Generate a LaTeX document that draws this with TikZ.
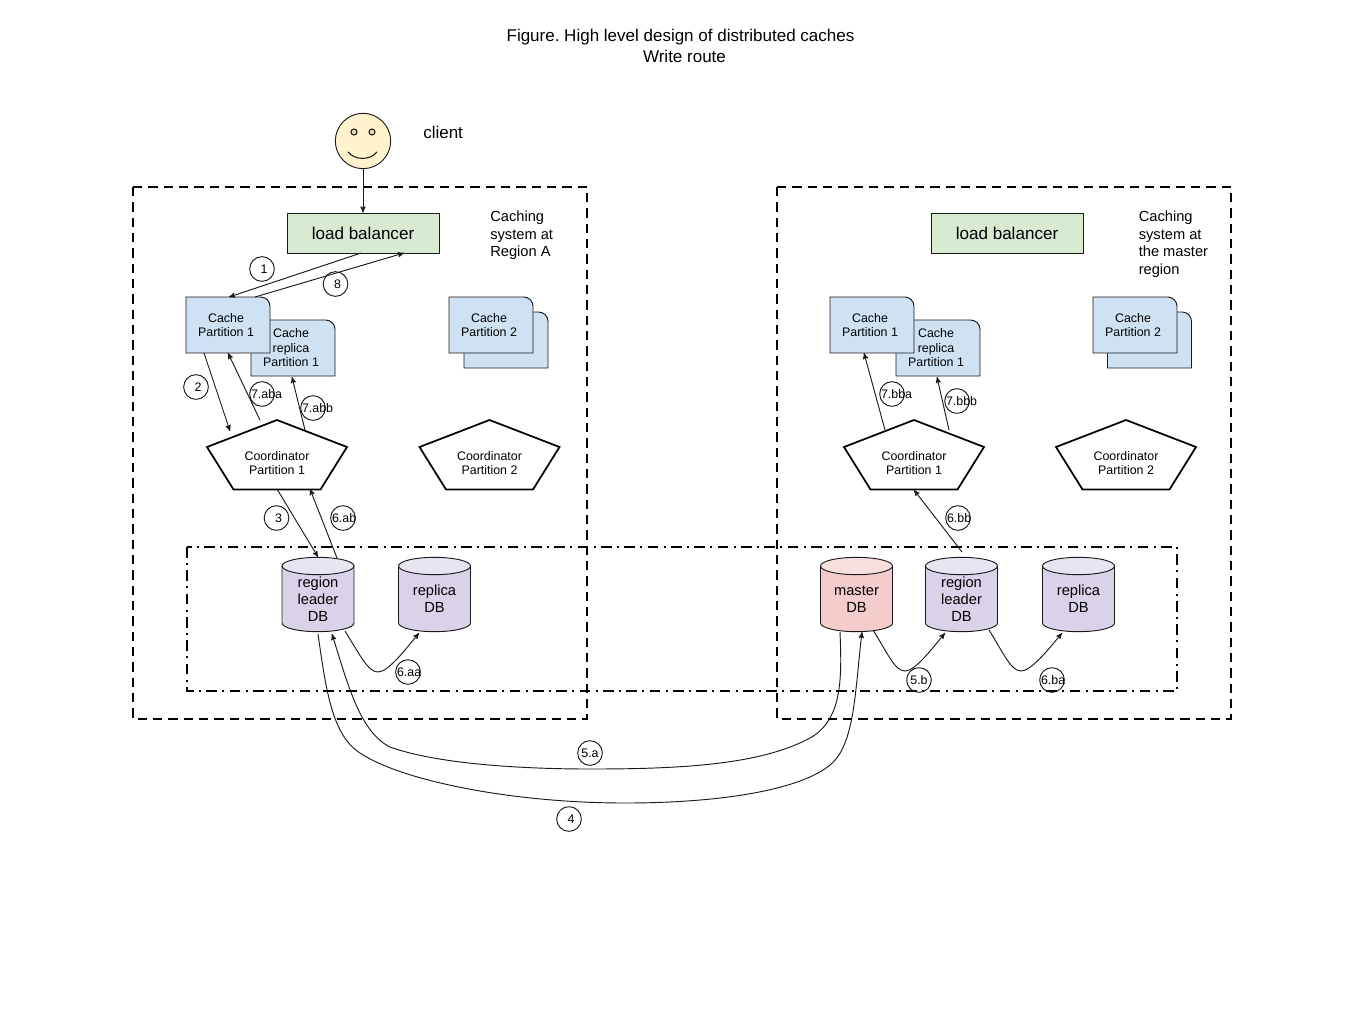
\documentclass[tikz,border=0pt]{standalone}
\usepackage{fontspec}
\setmainfont{Liberation Sans}
\usetikzlibrary{arrows}

\definecolor{BalancerGreen}{HTML}{D9EAD3}
\definecolor{CacheBlue}{HTML}{CFE2F3}
\definecolor{DbPurple}{HTML}{D9D2E9}
\definecolor{DbPurpleTop}{HTML}{E8E4F2}
\definecolor{DbRed}{HTML}{F4CCCC}
\definecolor{DbRedTop}{HTML}{F8E0E0}
\definecolor{FaceYellow}{HTML}{FFF2CC}
\definecolor{EyeTan}{HTML}{E8D9AE}
\definecolor{EdgeGray}{HTML}{1A1A1A}

% name, centre of the box, text
\newcommand{\CacheNode}[3]{%
    \path[CacheBoxStyle] (#2) ++(-42,-28) [rounded corners=7pt] -- ++(84,0) [sharp corners] -- ++(0,56) -- ++(-84,0) -- cycle;
    \node[CacheTextStyle] (#1) at ([shift={(-2,0)}]#2) {#3};
}
% name, tip of the pentagon, text
\newcommand{\CoordNode}[3]{%
    \path[CoordStyle] (#2) -- ++(70,27) -- ++(-26.5,42.5) -- ++(-87,0) -- ++(-26.5,-42.5) -- cycle;
    \node[CacheTextStyle] (#1) at ([shift={(0,43)}]#2) {#3};
}
% name, place of the text, text, body colour, top colour
\newcommand{\DbNode}[5]{%
    \path[DbBoxStyle, fill=#4] (#2) ++(-36,-33) -- ++(0,57)
        arc[start angle=180, end angle=360, x radius=27pt, y radius=6.5pt] -- ++(0,-57) -- cycle;
    \path[DbBoxStyle, fill=#5] (#2) ++(0,-33) ellipse[x radius=27pt, y radius=6.5pt];
    \node[DbTextStyle] (#1) at (#2) {#3};
}
% text that runs out of its circle on the right
\newcommand{\OverText}[1]{\makebox[0pt][l]{\hspace{-8.2pt}#1}}
% text a little right of the middle of its circle
\newcommand{\NudgeText}[1]{\makebox[0pt]{\hspace{3pt}#1}}

\begin{document}
\frenchspacing
\begin{tikzpicture}[>=stealth', x=0.75pt, y=-0.75pt]
    \tikzstyle{PlainStyle}=[inner sep    = 0pt,
                            align        = left,
                            font         = \fontsize{11}{13.1}\selectfont]
    \tikzstyle{BalancerStyle}=[shape        = rectangle,
                               draw         = EdgeGray,
                               line width   = 0.7pt,
                               fill         = BalancerGreen,
                               minimum width  = 114pt,
                               minimum height = 30pt,
                               font         = \fontsize{12.8}{15}\selectfont]
    \tikzstyle{CacheBoxStyle}=[draw       = EdgeGray,
                               line width = 0.7pt,
                               fill       = CacheBlue]
    \tikzstyle{CacheTextStyle}=[inner sep = 0pt,
                                align     = center,
                                font      = \fontsize{9.3}{10.9}\selectfont]
    \tikzstyle{CoordStyle}=[draw       = black,
                            line width = 1.3pt,
                            fill       = white]
    \tikzstyle{DbBoxStyle}=[draw       = EdgeGray,
                            line width = 0.7pt]
    \tikzstyle{DbTextStyle}=[inner sep = 0pt,
                             align     = center,
                             font      = \fontsize{11}{12.75}\selectfont]
    \tikzstyle{StepStyle}=[shape        = circle,
                           draw         = EdgeGray,
                           line width   = 0.7pt,
                           minimum size = 18.5pt,
                           inner sep    = 0pt,
                           font         = \fontsize{9.3}{11}\selectfont]
    \tikzstyle{EyeStyle}=[shape        = circle,
                          draw         = EdgeGray,
                          line width   = 0.8pt,
                          fill         = EyeTan,
                          minimum size = 4.5pt,
                          inner sep    = 0pt]
    \tikzstyle{FlowStyle}=[->,
                           draw       = EdgeGray,
                           line width = 0.7pt]
    \tikzstyle{RegionStyle}=[draw, line width = 1.4pt, dash pattern = on 7pt off 4.5pt]
    \tikzstyle{DbZoneStyle}=[draw, line width = 1.2pt, dash pattern = on 8pt off 4pt on 1.5pt off 4pt]

    \useasboundingbox[fill=white] (0,0) rectangle (1358,1025);

    % title and client
    \node[PlainStyle, align=center, font=\fontsize{12.75}{15.75}\selectfont] (title) at (680.5,45.5)
        {Figure. High level design of distributed caches\\\hspace*{6pt}Write route};
    \node[shape=circle, draw=EdgeGray, line width=0.7pt, fill=FaceYellow, minimum size=41.5pt, inner sep=0pt] (face) at (363,141) {};
    \node[EyeStyle] (eyeL) at (354,132) {};
    \node[EyeStyle] (eyeR) at (372,132) {};
    \draw[EdgeGray, line width=0.8pt] (348,152) .. controls (355,160.5) and (370,160.5) .. (377,152);
    \node[PlainStyle, font=\fontsize{12.75}{15}\selectfont, anchor=west] (client) at (423,132) {client};

    % the two regions and the database zone
    \path[RegionStyle] (133,187) rectangle (587,719);
    \path[RegionStyle] (777,187) rectangle (1231,719);
    \path[DbZoneStyle] (187,547) rectangle (1177,691);
    \node[PlainStyle, anchor=north west] (regionA) at (490,211) {Caching\\system at\\Region A};
    \node[PlainStyle, anchor=north west] (regionM) at (1138.5,211) {Caching\\system at\\the master\\region};

    % region A
    \node[BalancerStyle] (lbA) at (363,233) {load balancer};
    \CacheNode{replicaA}{293,348}{Cache\\replica\\Partition 1}
    \CacheNode{cacheA}{228,325}{Cache\\Partition 1}
    \path[CacheBoxStyle] (464,312) [rounded corners=7pt] -- ++(84,0) [sharp corners] -- ++(0,56) -- ++(-84,0) -- cycle;
    \CacheNode{cacheAtwo}{491,325}{Cache\\Partition 2}
    \CoordNode{coordA}{277,420}{Coordinator\\Partition 1}
    \CoordNode{coordAtwo}{489.5,420}{Coordinator\\Partition 2}
    \DbNode{leaderA}{318,599}{region\\leader\\DB}{DbPurple}{DbPurpleTop}
    \DbNode{replicaDbA}{434.5,599}{replica\\DB}{DbPurple}{DbPurpleTop}

    % master region
    \node[BalancerStyle] (lbM) at (1007,233) {load balancer};
    \CacheNode{replicaM}{938,348}{Cache\\replica\\Partition 1}
    \CacheNode{cacheM}{872,325}{Cache\\Partition 1}
    \path[CacheBoxStyle] (1107.5,312) [rounded corners=7pt] -- ++(84,0) [sharp corners] -- ++(0,56) -- ++(-84,0) -- cycle;
    \CacheNode{cacheMtwo}{1135,325}{Cache\\Partition 2}
    \CoordNode{coordM}{914,420}{Coordinator\\Partition 1}
    \CoordNode{coordMtwo}{1126,420}{Coordinator\\Partition 2}
    \DbNode{master}{856.5,599}{master\\DB}{DbRed}{DbRedTop}
    \DbNode{leaderM}{961.5,599}{region\\leader\\DB}{DbPurple}{DbPurpleTop}
    \DbNode{replicaDbM}{1078.5,599}{replica\\DB}{DbPurple}{DbPurpleTop}

    % straight connectors
    \draw[FlowStyle] (face.south) -- (lbA.north);
    \draw[FlowStyle] ([shift={(-2,20)}]lbA.center) -- ([shift={(3,-28)}]cacheA.center);
    \draw[FlowStyle] ([shift={(29,-28)}]cacheA.center) -- ([shift={(41,20)}]lbA.center);
    \draw[FlowStyle] ([shift={(-22,28)}]cacheA.center) -- ([shift={(-47,-32)}]coordA.center);
    \draw[FlowStyle] ([shift={(-17,-43)}]coordA.center) -- ([shift={(2,28)}]cacheA.center);
    \draw[FlowStyle] ([shift={(28,-33)}]coordA.center) -- ([shift={(1,29)}]replicaA.center);
    \draw[FlowStyle] ([shift={(0,26)}]coordA.center) -- ([shift={(0,-42)}]leaderA.center);
    \draw[FlowStyle] ([shift={(19,-41)}]leaderA.center) -- ([shift={(33,26)}]coordA.center);
    \draw[FlowStyle] ([shift={(-29,-33)}]coordM.center) -- ([shift={(-6,28)}]cacheM.center);
    \draw[FlowStyle] ([shift={(35,-33)}]coordM.center) -- ([shift={(1,29)}]replicaM.center);
    \draw[FlowStyle] ([shift={(0.5,-47)}]leaderM.center) -- ([shift={(0,27)}]coordM.center);

    % curved connectors
    \draw[FlowStyle] ([shift={(27,32)}]leaderA.center) .. controls +(15,24) and +(-10,0) .. ++(33,41)
        .. controls +(10,0) and +(-14,17) .. ([shift={(-15.5,34)}]replicaDbA.center);
    \draw[FlowStyle] ([shift={(16.5,31)}]master.center) .. controls +(15,24) and +(-10,0) .. ++(32,41)
        .. controls +(10,0) and +(-14,17) .. ([shift={(-16.5,34)}]leaderM.center);
    \draw[FlowStyle] ([shift={(27.5,31)}]leaderM.center) .. controls +(15,24) and +(-10,0) .. ++(32,41)
        .. controls +(10,0) and +(-14,17) .. ([shift={(-16.5,34)}]replicaDbM.center);
    \draw[FlowStyle] ([shift={(0,35)}]leaderA.center) .. controls +(8,56) and +(-28,-18) .. ++(42,119)
        .. controls +(40,27) and +(-115,0) .. ++(265,50)
        .. controls +(95,0) and +(-30,25) .. ++(205,-38)
        .. controls +(25,-20) and +(-7,58) .. ([shift={(5.5,33)}]master.center);
    \draw[FlowStyle] ([shift={(-16.5,33)}]master.center) .. controls +(2,48) and +(32,-18) .. ++(-30,106)
        .. controls +(-50,27) and +(90,0) .. ++(-220,31)
        .. controls +(-60,0) and +(50,18) .. ++(-200,-22)
        .. controls +(-30,-15) and +(16,51) .. ([shift={(14,35)}]leaderA.center);

    % step labels
    \node[StepStyle] (stepOne) at (262,269) {\NudgeText{1}};
    \node[StepStyle] (stepEight) at (335.5,284) {\NudgeText{8}};
    \node[StepStyle] (stepTwo) at (196,387) {\NudgeText{2}};
    \node[StepStyle] (stepSevenAba) at (262,394) {\OverText{7.aba}};
    \node[StepStyle] (stepSevenAbb) at (313,408) {\OverText{7.abb}};
    \node[StepStyle] (stepThree) at (276.5,518) {\NudgeText{3}};
    \node[StepStyle] (stepSixAb) at (343,518) {\OverText{6.ab}};
    \node[StepStyle] (stepSixAa) at (408,672) {\OverText{6.aa}};
    \node[StepStyle] (stepFiveA) at (590,753) {5.a};
    \node[StepStyle] (stepFour) at (569,819) {\NudgeText{4}};
    \node[StepStyle] (stepSevenBba) at (892,394) {\OverText{7.bba}};
    \node[StepStyle] (stepSevenBbb) at (957,401) {\OverText{7.bbb}};
    \node[StepStyle] (stepSixBb) at (958,518) {\OverText{6.bb}};
    \node[StepStyle] (stepFiveB) at (919,680) {5.b};
    \node[StepStyle] (stepSixBa) at (1052,680) {\OverText{6.ba}};
\end{tikzpicture}
\end{document}
